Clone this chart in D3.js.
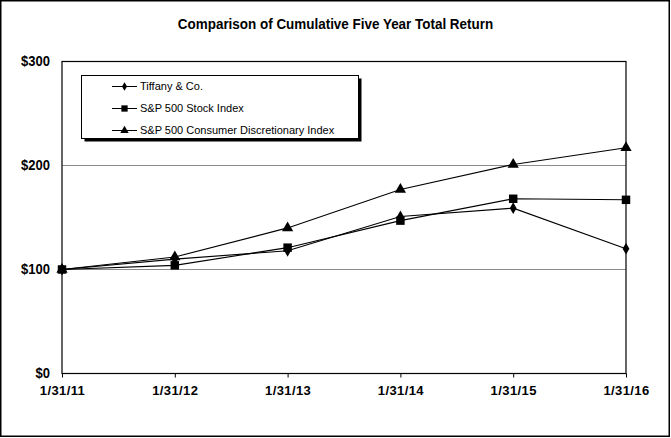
<!DOCTYPE html>
<html>
<head>
<meta charset="utf-8">
<script src="https://cdn.jsdelivr.net/npm/d3@7"></script>
<style>
  body { margin: 0; background: #fff; }
  svg { display: block; }
  .axis-font { font-family: "Liberation Sans", Arial, sans-serif; }
  .legend text { font-family: "Liberation Sans", Arial, sans-serif; font-size: 11px; }
</style>
</head>
<body>
<div id="chart"></div>
<script>
const dates = ['1/31/11', '1/31/12', '1/31/13', '1/31/14', '1/31/15', '1/31/16'];
const tiffany = [100, 110, 118, 151, 159, 120];
const sp500 = [100, 104, 121, 147, 168, 167];
const consDisc = [100, 112, 140, 177, 201, 217];
const yTicks = [0, 100, 200, 300];

const series = [
  { name: 'Tiffany & Co.', values: tiffany, symbol: d3.symbolDiamond, size: 40 },
  { name: 'S&P 500 Stock Index', values: sp500, symbol: d3.symbolSquare, size: 72 },
  { name: 'S&P 500 Consumer Discretionary Index', values: consDisc, symbol: d3.symbolTriangle, size: 55 }
];

const width = 671, height = 438;
const plotLeft = 62, plotRight = 626, plotTop = 61.5, plotBottom = 373.5;

const svg = d3.select('#chart')
  .append('svg')
  .attr('width', width)
  .attr('height', height);

// outer frame
svg.append('rect')
  .attr('x', 0.75).attr('y', 0.75)
  .attr('width', width - 2.5).attr('height', height - 2.5)
  .attr('fill', 'none')
  .attr('stroke', '#000')
  .attr('stroke-width', 1.5);

svg.append('text')
  .attr('class', 'axis-font')
  .attr('transform', 'translate(335.5,29) scale(0.96,1)')
  .attr('text-anchor', 'middle')
  .attr('font-size', '14px')
  .attr('font-weight', 'bold')
  .text('Comparison of Cumulative Five Year Total Return');

const x = d3.scalePoint().domain(dates).range([plotLeft, plotRight]);
const y = d3.scaleLinear().domain([0, 300]).range([plotBottom, plotTop]);

// gridlines
svg.append('g')
  .selectAll('line')
  .data([100, 200])
  .join('line')
  .attr('x1', plotLeft).attr('x2', plotRight)
  .attr('y1', d => y(d)).attr('y2', d => y(d))
  .attr('stroke', '#8c8c8c')
  .attr('stroke-width', 1);

// plot border
svg.append('rect')
  .attr('x', plotLeft).attr('y', plotTop)
  .attr('width', plotRight - plotLeft).attr('height', plotBottom - plotTop)
  .attr('fill', 'none')
  .attr('stroke', '#000')
  .attr('stroke-width', 1.2);

// y axis labels
const yAxis = d3.axisLeft(y)
  .tickValues(yTicks)
  .tickSize(0)
  .tickPadding(0)
  .tickFormat(d => '$' + d);

svg.append('g')
  .attr('class', 'axis-font')
  .attr('transform', 'translate(' + (plotLeft - 12) + ',0)')
  .call(yAxis)
  .call(g => g.select('.domain').remove())
  .call(g => g.selectAll('text')
    .attr('x', 0)
    .attr('font-size', '14px')
    .attr('font-weight', 'bold')
    .attr('fill', '#000')
    .attr('transform', 'scale(0.93,1)'))
  .attr('font-family', null);

// x axis
const xAxis = d3.axisBottom(x)
  .tickSize(4)
  .tickPadding(8);

svg.append('g')
  .attr('class', 'axis-font')
  .attr('transform', 'translate(0,' + plotBottom + ')')
  .call(xAxis)
  .call(g => g.select('.domain').remove())
  .call(g => g.selectAll('line').attr('stroke', '#000'))
  .call(g => g.selectAll('text')
    .attr('font-size', '13px')
    .attr('font-weight', 'bold')
    .attr('letter-spacing', '0.4px')
    .attr('fill', '#000'))
  .attr('font-family', null);

const line = d3.line()
  .x((d, i) => x(dates[i]))
  .y(d => y(d));

series.forEach(s => {
  svg.append('path')
    .datum(s.values)
    .attr('fill', 'none')
    .attr('stroke', '#000')
    .attr('stroke-width', 1.1)
    .attr('d', line);
});

series.forEach(s => {
  svg.append('g')
    .selectAll('path')
    .data(s.values)
    .join('path')
    .attr('transform', (d, i) => 'translate(' + x(dates[i]) + ',' + y(d) + ')')
    .attr('d', d3.symbol().type(s.symbol).size(s.size))
    .attr('fill', '#000');
});

// legend
const legend = svg.append('g').attr('class', 'legend');
legend.append('rect')
  .attr('x', 84.5).attr('y', 78.5)
  .attr('width', 277).attr('height', 63)
  .attr('fill', '#000');
legend.append('rect')
  .attr('x', 81.5).attr('y', 75.5)
  .attr('width', 277).attr('height', 63)
  .attr('fill', '#fff')
  .attr('stroke', '#000')
  .attr('stroke-width', 1);

const rows = legend.selectAll('g.row')
  .data(series)
  .join('g')
  .attr('class', 'row')
  .attr('transform', (d, i) => 'translate(0,' + (86.5 + i * 22) + ')');

rows.append('line')
  .attr('x1', 112).attr('x2', 137)
  .attr('stroke', '#000').attr('stroke-width', 1);
rows.append('path')
  .attr('transform', 'translate(124.5,0)')
  .attr('d', d => d3.symbol().type(d.symbol).size(d.size * 0.55)())
  .attr('fill', '#000');
rows.append('text')
  .attr('x', 140)
  .attr('dy', '0.35em')
  .text(d => d.name);
</script>
</body>
</html>
